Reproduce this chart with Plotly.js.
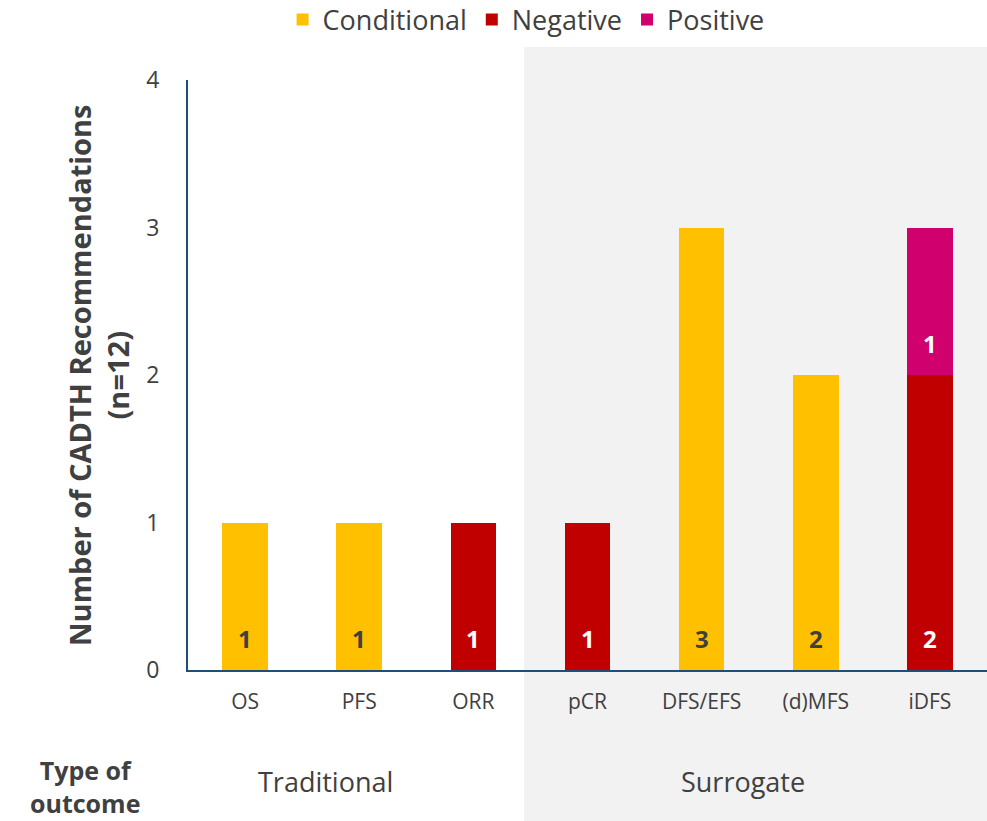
<!DOCTYPE html>
<html>
<head>
<meta charset="utf-8">
<script src="https://cdn.plot.ly/plotly-3.0.1.min.js"></script>
<style>
  html, body { margin: 0; padding: 0; background: #ffffff; }
  #chart { width: 987px; height: 821px; }
</style>
</head>
<body>
<div id="chart"></div>
<script>
// Outcome types and recommendation counts per outcome
const categories = ['OS', 'PFS', 'ORR', 'pCR', 'DFS/EFS', '(d)MFS', 'iDFS'];
const conditional = [1, 1, null, null, 3, 2, null];
const negative = [null, null, 1, 1, null, null, 2];
const positive = [null, null, null, null, null, null, 1];
const groupLabels = ['Traditional', 'Surrogate'];
const yTicks = [0, 1, 2, 3, 4];

const FONT = 'Open Sans, Noto Sans, sans-serif';
const TEXT = '#404040';

const seriesList = [
  { name: 'Conditional', values: conditional, color: '#ffc000', label: TEXT },
  { name: 'Negative', values: negative, color: '#c00000', label: '#ffffff' },
  { name: 'Positive', values: positive, color: '#d0006f', label: '#ffffff' }
];

const data = seriesList.map(s => ({
  type: 'bar',
  name: s.name,
  x: categories,
  y: s.values,
  marker: { color: s.color },
  width: 0.4,
  textposition: 'none',
  hoverinfo: 'x+y+name'
}));

// Value labels sit just above the base of each stacked segment
const valueLabels = [];
const running = categories.map(() => 0);
seriesList.forEach(s => {
  s.values.forEach((v, i) => {
    if (v == null) return;
    valueLabels.push({
      x: categories[i], y: running[i] + 0.215,
      xref: 'x', yref: 'y',
      text: '<b>' + v + '</b>',
      showarrow: false, xanchor: 'center', yanchor: 'middle',
      font: { family: FONT, size: 24, color: s.label }
    });
    running[i] += v;
  });
});

const layout = {
  width: 987,
  height: 821,
  margin: { l: 188, r: 0, t: 80, b: 151 },
  paper_bgcolor: '#ffffff',
  plot_bgcolor: 'rgba(0,0,0,0)',
  barmode: 'stack',
  font: { family: FONT, color: TEXT },
  showlegend: true,
  legend: {
    orientation: 'h',
    x: 0.533, xref: 'container', xanchor: 'center',
    y: (821 - 20) / 821, yref: 'container', yanchor: 'middle',
    bgcolor: 'rgba(0,0,0,0)',
    font: { family: FONT, size: 27, color: TEXT },
    itemwidth: 30,
    traceorder: 'normal'
  },
  xaxis: {
    type: 'category',
    range: [-0.5, 6.5],
    showline: true,
    linecolor: '#1f4e79',
    linewidth: 2,
    ticks: '',
    showgrid: false,
    zeroline: false,
    tickfont: { family: FONT, size: 21, color: TEXT },
    ticklabelstandoff: 12
  },
  yaxis: {
    range: [0, 4],
    tickvals: yTicks,
    ticktext: yTicks.map(String),
    showline: true,
    linecolor: '#1f4e79',
    linewidth: 2,
    ticks: '',
    showgrid: false,
    zeroline: false,
    tickfont: { family: FONT, size: 23, color: TEXT },
    ticklabelstandoff: 22
  },
  shapes: [
    {
      type: 'rect', layer: 'below',
      xref: 'paper', yref: 'paper',
      x0: 0.4205, x1: 1.0, y0: -0.256, y1: 1.056,
      fillcolor: '#f2f2f2', line: { width: 0 }
    }
  ],
  annotations: valueLabels.concat([
    {
      text: '<b>Number of CADTH Recommendations<br>(n=12)</b>',
      textangle: -90,
      xref: 'paper', yref: 'paper',
      x: (98 - 188) / 799, y: 0.5, xanchor: 'center', yanchor: 'middle',
      showarrow: false,
      font: { family: FONT, size: 29, color: TEXT }
    },
    {
      text: groupLabels[0],
      xref: 'paper', yref: 'paper',
      x: (325 - 188) / 799, y: (670 - 781) / 590,
      xanchor: 'center', yanchor: 'middle', showarrow: false,
      font: { family: FONT, size: 27, color: TEXT }
    },
    {
      text: groupLabels[1],
      xref: 'paper', yref: 'paper',
      x: (743 - 188) / 799, y: (670 - 781) / 590,
      xanchor: 'center', yanchor: 'middle', showarrow: false,
      font: { family: FONT, size: 27, color: TEXT }
    },
    {
      text: '<b>Type of<br>outcome</b>',
      xref: 'paper', yref: 'paper',
      x: (85 - 188) / 799, y: (670 - 786) / 590,
      xanchor: 'center', yanchor: 'middle', showarrow: false,
      font: { family: FONT, size: 25, color: TEXT }
    }
  ])
};

Plotly.newPlot('chart', data, layout, { displayModeBar: false, responsive: false });
</script>
</body>
</html>
